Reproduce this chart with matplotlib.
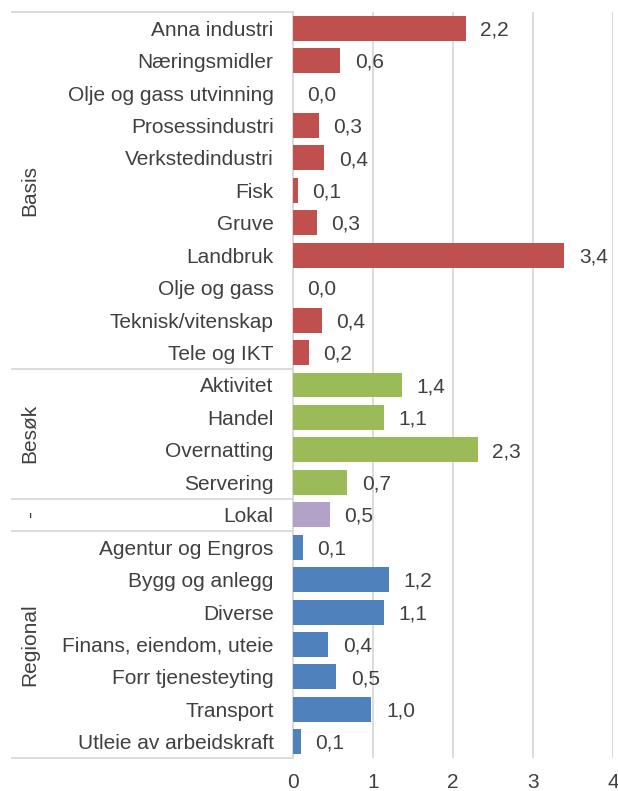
import matplotlib
matplotlib.use("Agg")
import matplotlib.pyplot as plt
from matplotlib.transforms import blended_transform_factory

plt.rcParams['font.family'] = ['Liberation Sans', 'DejaVu Sans']

categories = ["Anna industri", "Næringsmidler", "Olje og gass utvinning", "Prosessindustri",
              "Verkstedindustri", "Fisk", "Gruve", "Landbruk", "Olje og gass",
              "Teknisk/vitenskap", "Tele og IKT",
              "Aktivitet", "Handel", "Overnatting", "Servering",
              "Lokal",
              "Agentur og Engros", "Bygg og anlegg", "Diverse", "Finans, eiendom, uteie",
              "Forr tjenesteyting", "Transport", "Utleie av arbeidskraft"]
values = [2.16, 0.59, 0.0, 0.32, 0.39, 0.06, 0.30, 3.39, 0.0, 0.36, 0.20,
          1.36, 1.14, 2.31, 0.68,
          0.46,
          0.12, 1.20, 1.14, 0.44, 0.54, 0.98, 0.10]
groups = ["Basis"] * 11 + ["Besøk"] * 4 + ["-"] + ["Regional"] * 7
group_colors = {"Basis": "#C0504D", "Besøk": "#9BBB59", "-": "#B3A2C7", "Regional": "#4F81BD"}
xticks = [0, 1, 2, 3, 4]

FS = 15
TC = '#404040'
W, H = 618, 791
fig = plt.figure(figsize=(W / 100, H / 100), dpi=100)
ax = fig.add_axes([293 / W, (H - 758) / H, 320 / W, 746 / H])

n = len(categories)
ypos = list(range(n))
colors = [group_colors[g] for g in groups]
ax.barh(ypos, values, height=0.77, color=colors, zorder=3)
ax.set_ylim(n - 0.5, -0.5)
ax.set_xlim(0, 4)
ax.set_yticks(ypos)
ax.set_yticklabels(categories)
ax.set_xticks(xticks)
ax.set_xticklabels([str(t) for t in xticks])
ax.tick_params(axis='y', length=0, pad=14, labelsize=FS, labelcolor=TC)
ax.tick_params(axis='x', length=0, pad=11, labelsize=FS, labelcolor=TC)
ax.grid(axis='x', color='#D9D9D9', linewidth=1.3, zorder=0)
for s in ['top', 'right', 'bottom']:
    ax.spines[s].set_visible(False)
ax.spines['left'].set_color('#D9D9D9')
ax.spines['left'].set_linewidth(1.3)

for y, v in zip(ypos, values):
    ax.annotate(f"{v:.1f}".replace('.', ','), xy=(v, y), xytext=(10.5, -1.2),
                textcoords='offset points', va='center', ha='left',
                fontsize=FS, color=TC, zorder=4)

# group separators and labels
tr = blended_transform_factory(fig.transFigure, ax.transData)
x0 = 12 / W
x1 = 293 / W
bounds = []
start = 0
for i in range(1, n + 1):
    if i == n or groups[i] != groups[start]:
        bounds.append((groups[start], start, i - 1))
        start = i
lines_y = [-0.5] + [b[2] + 0.5 for b in bounds]
for ly in lines_y:
    ax.plot([x0, x1], [ly, ly], transform=tr, color='#D9D9D9', linewidth=1.3,
            clip_on=False, zorder=1)
for name, a, b in bounds:
    ax.text(30 / W, (a + b) / 2, name, transform=tr, rotation=90, ha='center',
            va='center', fontsize=FS, color=TC)

fig.savefig("out.png", dpi=100)
